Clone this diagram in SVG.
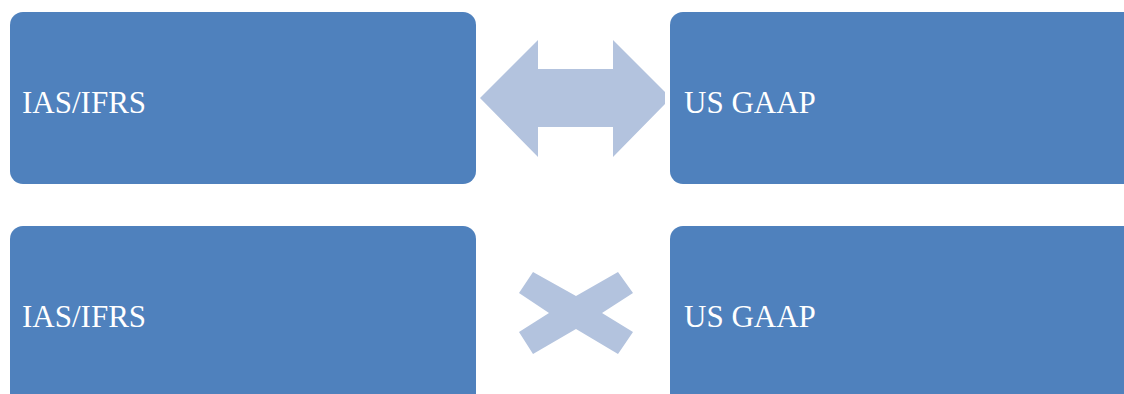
<svg xmlns="http://www.w3.org/2000/svg" width="1124" height="394" viewBox="0 0 1124 394">
<style>
.box{fill:#4F81BD}
.lbl{font-family:"Liberation Serif","Times New Roman",serif;font-size:31px;fill:#FFFFFF}
.sym{fill:#B3C3DE}
</style>
<rect width="1124" height="394" fill="#FFFFFF"/>
<g id="node-ifrs-top">
<rect class="box" x="10" y="12" width="466" height="172" rx="13" ry="13"/>
<text class="lbl" x="22" y="113">IAS/IFRS</text>
</g>
<g id="node-gaap-top">
<rect class="box" x="670" y="12" width="480" height="172" rx="13" ry="13"/>
<text class="lbl" x="684" y="113">US GAAP</text>
</g>
<g id="node-ifrs-bottom">
<rect class="box" x="10" y="226" width="466" height="200" rx="13" ry="13"/>
<text class="lbl" x="22" y="327">IAS/IFRS</text>
</g>
<g id="node-gaap-bottom">
<rect class="box" x="670" y="226" width="480" height="200" rx="13" ry="13"/>
<text class="lbl" x="684" y="327">US GAAP</text>
</g>
<g id="connectors">
<polygon class="sym" points="480,98 538,40 538,69 613,69 613,40 665,92 665,104 613,157 613,127 538,127 538,157"/>
<polygon class="sym" points="533,272 576,296 618,272 633,293 602,313 633,332 618,354 576,329 533,354 519,332 549,313 519,293"/>
</g>
</svg>
